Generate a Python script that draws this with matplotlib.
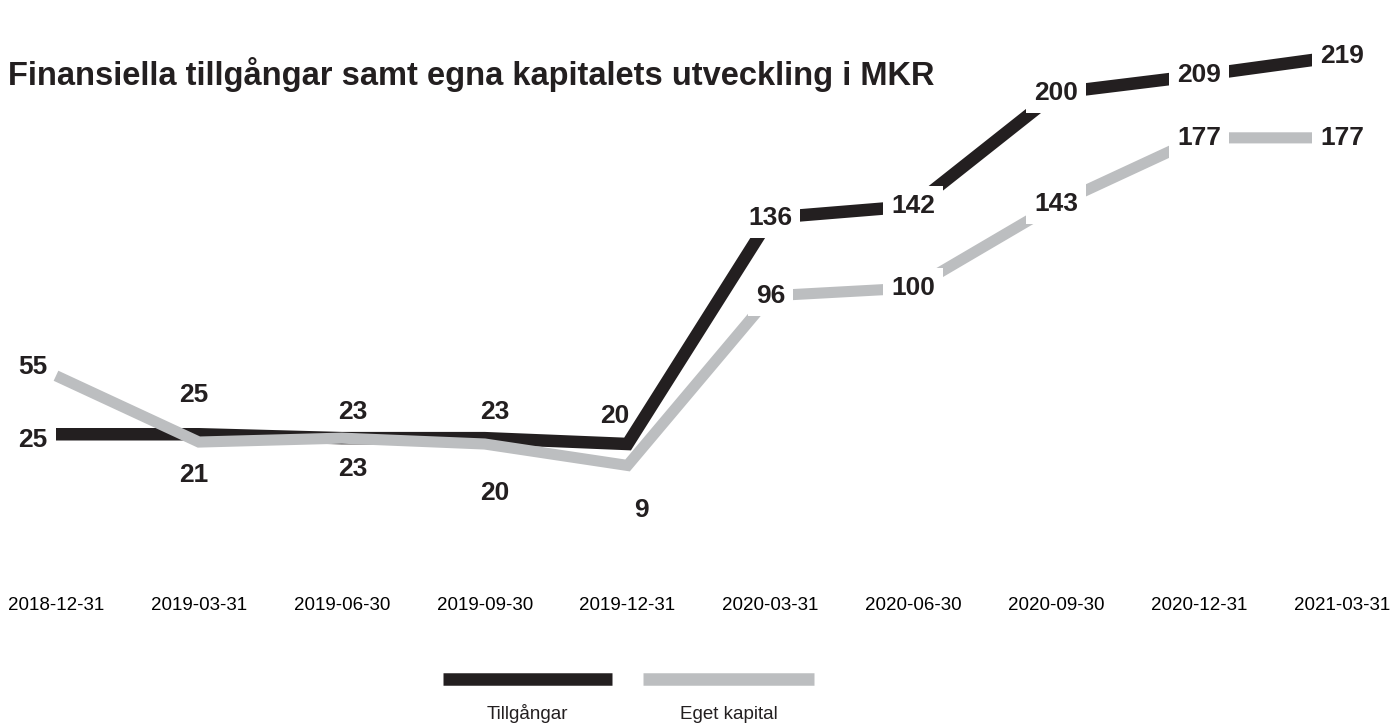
import matplotlib
matplotlib.use('Agg')
import matplotlib.pyplot as plt
from matplotlib.lines import Line2D

plt.rcParams['font.family'] = ['Liberation Sans', 'DejaVu Sans']

# ---- data ----
dates = ['2018-12-31', '2019-03-31', '2019-06-30', '2019-09-30', '2019-12-31',
         '2020-03-31', '2020-06-30', '2020-09-30', '2020-12-31', '2021-03-31']
tillgangar = [25, 25, 23, 23, 20, 136, 142, 200, 209, 219]
eget_kapital = [55, 21, 23, 20, 9, 96, 100, 143, 177, 177]
series_names = ['Tillgångar', 'Eget kapital']
title = 'Finansiella tillgångar samt egna kapitalets utveckling i MKR'

# ---- styles ----
c_black = '#231f20'
c_gray = '#bcbec0'
# label offsets (points); labels with zero offset sit on the line with a white box
off_black = [(-17, -4), (-4, 28), (8, 19), (7, 19), (-9, 20), (0, 0), (0, 0), (0, 0), (0, 0), (0, 0)]
off_gray = [(-17, 6), (-4, -24), (8, -22), (7, -35), (10, -32), (0, 0), (0, 0), (0, 0), (0, 0), (0, 0)]

W, H = 1390, 724
fig = plt.figure(figsize=(W / 100, H / 100), dpi=100)
x_left, x_right = 56, 1342
ax = fig.add_axes([x_left / W, 1 - 483 / H, (x_right - x_left) / W, 448.5 / H])

x = list(range(len(dates)))
ax.plot(x, tillgangar, color=c_black, lw=9, solid_joinstyle='miter',
        solid_capstyle='butt', zorder=2, clip_on=False)
ax.plot(x, eget_kapital, color=c_gray, lw=8, solid_joinstyle='miter',
        solid_capstyle='butt', zorder=3, clip_on=False)

ax.set_xlim(0, len(dates) - 1)
ax.set_ylim(0, 230)
for s in ax.spines.values():
    s.set_visible(False)
ax.set_yticks([])
ax.set_xticks(x, dates, fontsize=13.5)
ax.tick_params(axis='x', length=0, pad=82)

for vals, offs in ((tillgangar, off_black), (eget_kapital, off_gray)):
    for i, (v, o) in enumerate(zip(vals, offs)):
        on_line = (o == (0, 0))
        bbox = dict(boxstyle='square,pad=0.3', fc='white', ec='none') if on_line else None
        ax.annotate(str(v), (i, v), xytext=o, textcoords='offset points',
                    ha='center', va='center', fontsize=19, fontweight='bold',
                    color=c_black, bbox=bbox, zorder=5, annotation_clip=False)

fig.text(8 / W, 1 - 75 / H, title, ha='left', va='center', fontsize=23.5,
         fontweight='bold', color=c_black)

# legend
for (x0, x1), col, name in (((443, 612), c_black, series_names[0]),
                            ((643, 814), c_gray, series_names[1])):
    fig.add_artist(Line2D([x0 / W, x1 / W], [1 - 679 / H] * 2, transform=fig.transFigure,
                          color=col, lw=9, solid_capstyle='butt'))
    fig.text((x0 + x1) / 2 / W, 1 - 719 / H, name, ha='center', va='baseline',
             fontsize=13.5, color=c_black)

fig.savefig('out.png', dpi=100, facecolor='white')
